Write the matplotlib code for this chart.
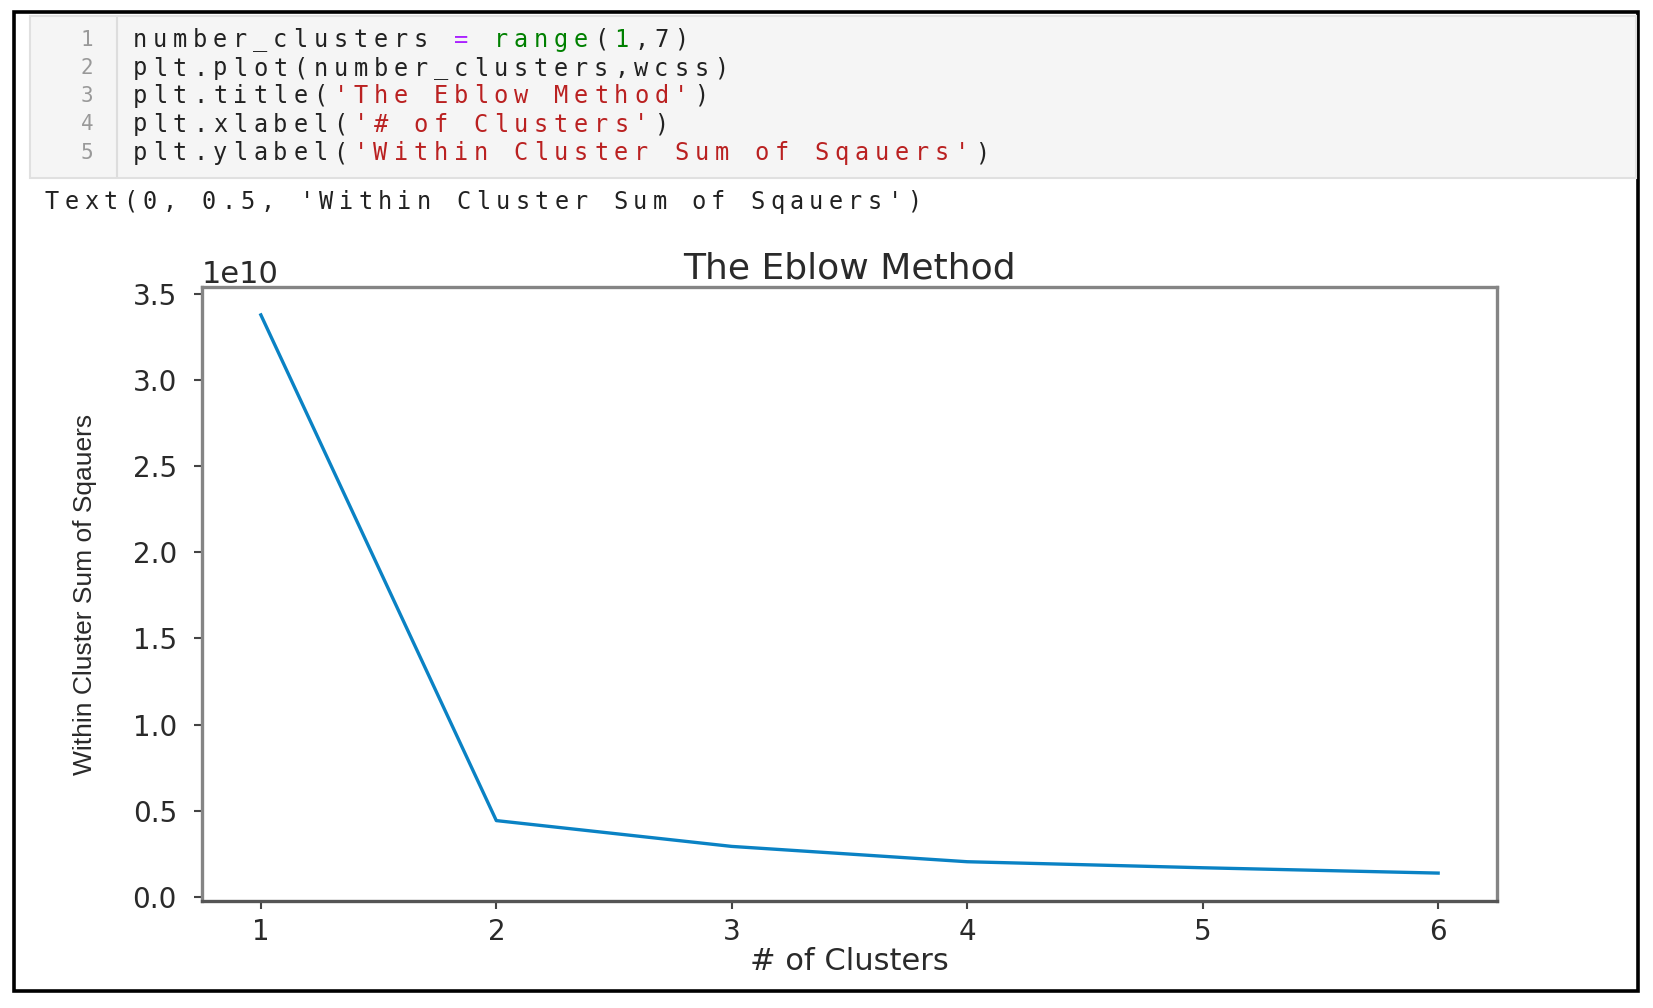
import matplotlib.pyplot as plt
from matplotlib.patches import Rectangle
from matplotlib.lines import Line2D

# data
n_clusters = [1, 2, 3, 4, 5, 6]
wcss = [3.38e10, 0.442e10, 0.292e10, 0.203e10, 0.168e10, 0.137e10]

title = 'The Eblow Method'
xlab = '# of Clusters'
ylab = 'Within Cluster Sum of Sqauers'

# code cell, as (text, colour) pieces per line
DARK, MAG, GRN, RED = '#222222', '#aa22ff', '#008000', '#ba2121'
code_lines = [
    [('number_clusters ', DARK), ('=', MAG), (' ', DARK), ('range', GRN), ('(', DARK), ('1', GRN), (',7)', DARK)],
    [('plt.plot(number_clusters,wcss)', DARK)],
    [('plt.title(', DARK), ("'" + title + "'", RED), (')', DARK)],
    [('plt.xlabel(', DARK), ("'" + xlab + "'", RED), (')', DARK)],
    [('plt.ylabel(', DARK), ("'" + ylab + "'", RED), (')', DARK)],
]
out_line = "Text(0, 0.5, '" + ylab + "')"

W, H = 1653, 1008
fig = plt.figure(figsize=(W / 100, H / 100), dpi=100)
fig.patch.set_facecolor('white')

def fx(x):
    return x / W

def fy(y):
    return 1 - y / H

# outer frame and code box
fig.patches.append(Rectangle((fx(14), fy(991)), (1638 - 14) / W, (991 - 12) / H,
                             fill=False, ec='black', lw=2.6, transform=fig.transFigure, figure=fig))
fig.patches.append(Rectangle((fx(30), fy(178)), (1636 - 30) / W, (178 - 16) / H,
                             fc='#f5f5f5', ec='#e0e0e0', lw=1.5, transform=fig.transFigure, figure=fig))
fig.lines.append(Line2D([fx(117), fx(117)], [fy(18), fy(176)], color='#dddddd', lw=1.5,
                        transform=fig.transFigure, figure=fig))

mono = 'DejaVu Sans Mono'
line_y = [40, 68.5, 96, 124.5, 153]
for i, (segs, y) in enumerate(zip(code_lines, line_y)):
    fig.text(fx(87), fy(y), str(i + 1), ha='center', va='center', fontsize=15,
             family=mono, color='#999999')
    col = 0
    for txt, c in segs:
        for ch in txt:
            fig.text(fx(130 + col * 20.05 + 10), fy(y), ch, ha='center', va='center',
                     fontsize=17, family=mono, color=c)
            col += 1

for col, ch in enumerate(out_line):
    fig.text(fx(42 + col * 19.6 + 9.8), fy(202), ch, ha='center', va='center',
             fontsize=17, family=mono, color='#222222')

# the chart
ax = fig.add_axes([fx(202), fy(901), (1497 - 202) / W, (901 - 287) / H])
ax.plot(n_clusters, wcss, color='#0a82c4', lw=2.4)
ax.set_title(title, fontsize=26, color='#2a2a2a', pad=6)
ax.set_xlabel(xlab, fontsize=22, color='#2a2a2a', labelpad=1)
ax.set_ylabel(ylab, fontsize=19, family=['Liberation Sans Narrow', 'Liberation Sans', 'DejaVu Sans'],
              color='#2a2a2a')
ax.yaxis.set_label_coords(-0.081, 0.5)

ax.tick_params(labelsize=20, labelcolor='#2a2a2a', color='#444444', length=6, width=1.5)
ax.tick_params(axis='y', pad=12)
ax.tick_params(axis='x', pad=6)
ax.yaxis.get_offset_text().set_fontsize(22)
ax.yaxis.get_offset_text().set_color('#2a2a2a')

for side in ['left', 'top', 'right']:
    ax.spines[side].set_color('#858585')
    ax.spines[side].set_linewidth(2.4)
ax.spines['bottom'].set_color('#555555')
ax.spines['bottom'].set_linewidth(2.4)

fig.savefig('out.png', dpi=100)
